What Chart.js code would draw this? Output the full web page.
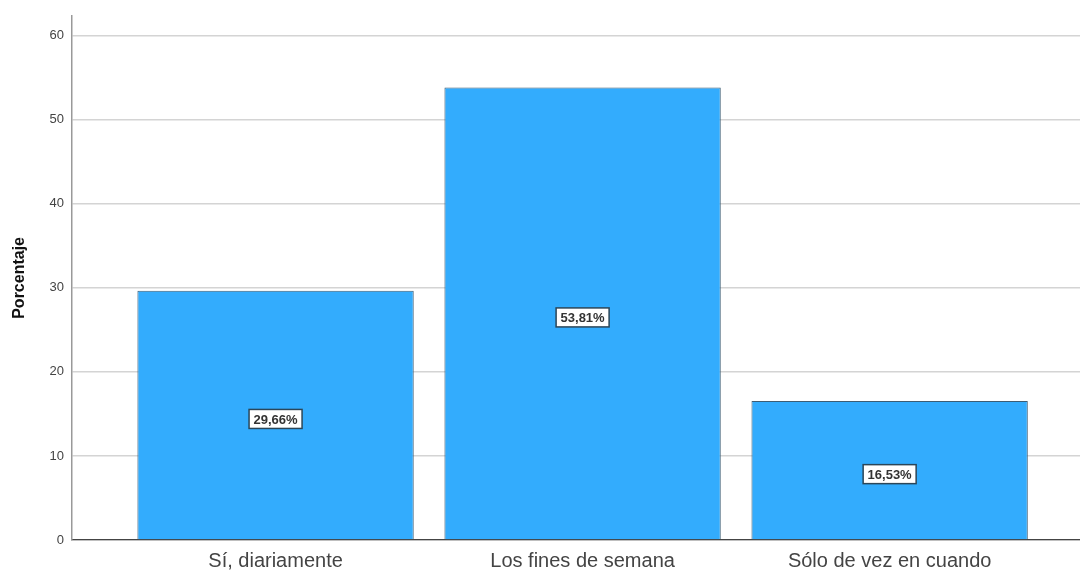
<!DOCTYPE html>
<html>
<head>
<meta charset="utf-8">
<script src="https://cdn.jsdelivr.net/npm/chart.js@4/dist/chart.umd.min.js"></script>
<style>
  html, body { margin: 0; padding: 0; background: #fff; }
  #chart { display: block; }
</style>
</head>
<body>
<canvas id="chart" width="1080" height="572"></canvas>
<script>
// Frecuencia de consumo (porcentaje)
const categories = ['Sí, diariamente', 'Los fines de semana', 'Sólo de vez en cuando'];
const positions = [1, 2, 3];
const percentages = [29.66, 53.81, 16.53];
const yTicks = [0, 10, 20, 30, 40, 50, 60];

// Draw the boxed value label in the middle of each bar
const barLabels = {
  id: 'barLabels',
  afterDatasetsDraw(chart) {
    const ctx = chart.ctx;
    const meta = chart.getDatasetMeta(0);
    ctx.save();
    ctx.font = 'bold 13px "Liberation Sans", Arial, sans-serif';
    ctx.textAlign = 'center';
    ctx.textBaseline = 'middle';
    meta.data.forEach((bar, i) => {
      const text = percentages[i].toFixed(2).replace('.', ',') + '%';
      const w = 53;
      const h = 19;
      const cy = (bar.y + bar.base) / 2 + 4;
      ctx.fillStyle = '#ffffff';
      ctx.fillRect(bar.x - w / 2, cy - h / 2, w, h);
      ctx.strokeStyle = '#2b4658';
      ctx.lineWidth = 1.5;
      ctx.strokeRect(bar.x - w / 2, cy - h / 2, w, h);
      ctx.fillStyle = '#333';
      ctx.fillText(text, bar.x, cy + 1);
    });
    ctx.restore();
  }
};

const chart = new Chart(document.getElementById('chart'), {
  type: 'bar',
  data: {
    datasets: [{
      data: positions.map((x, i) => ({ x: x, y: percentages[i] })),
      backgroundColor: '#33acfd',
      borderColor: '#3d5d74',
      borderWidth: 1,
      barPercentage: 0.9,
      categoryPercentage: 1
    }]
  },
  options: {
    responsive: false,
    animation: false,
    layout: { padding: { top: 10, right: 0, left: 0, bottom: 0 } },
    plugins: {
      legend: { display: false },
      tooltip: { enabled: false }
    },
    scales: {
      x: {
        type: 'linear',
        offset: false,
        min: 0.337,
        max: 3.62,
        grid: { display: false, drawTicks: false, offset: false },
        border: { display: true, color: '#444', width: 1.2 },
        afterBuildTicks: (scale) => {
          scale.ticks = positions.map(v => ({ value: v }));
        },
        afterFit: (scale) => { scale.height = 32; },
        ticks: {
          autoSkip: false,
          maxRotation: 0,
          padding: 9,
          color: '#444',
          font: { family: '"Liberation Sans", Arial, sans-serif', size: 20 },
          callback: (v) => categories[positions.indexOf(v)] || ''
        }
      },
      y: {
        min: 0,
        max: 62.35,
        afterBuildTicks: (scale) => {
          scale.ticks = yTicks.map(v => ({ value: v }));
        },
        afterFit: (scale) => { scale.width = 72; },
        grid: { color: '#d4d4d4', lineWidth: 1.5, drawTicks: false },
        border: { display: true, color: '#999', width: 1.5 },
        ticks: {
          padding: 8,
          color: '#444',
          font: { family: '"Liberation Sans", Arial, sans-serif', size: 13 }
        },
        title: {
          display: true,
          text: 'Porcentaje',
          color: '#111',
          padding: { top: 10, bottom: 10 },
          font: { family: '"Liberation Sans", Arial, sans-serif', size: 16, weight: 'bold' }
        }
      }
    }
  },
  plugins: [barLabels]
});
</script>
</body>
</html>
